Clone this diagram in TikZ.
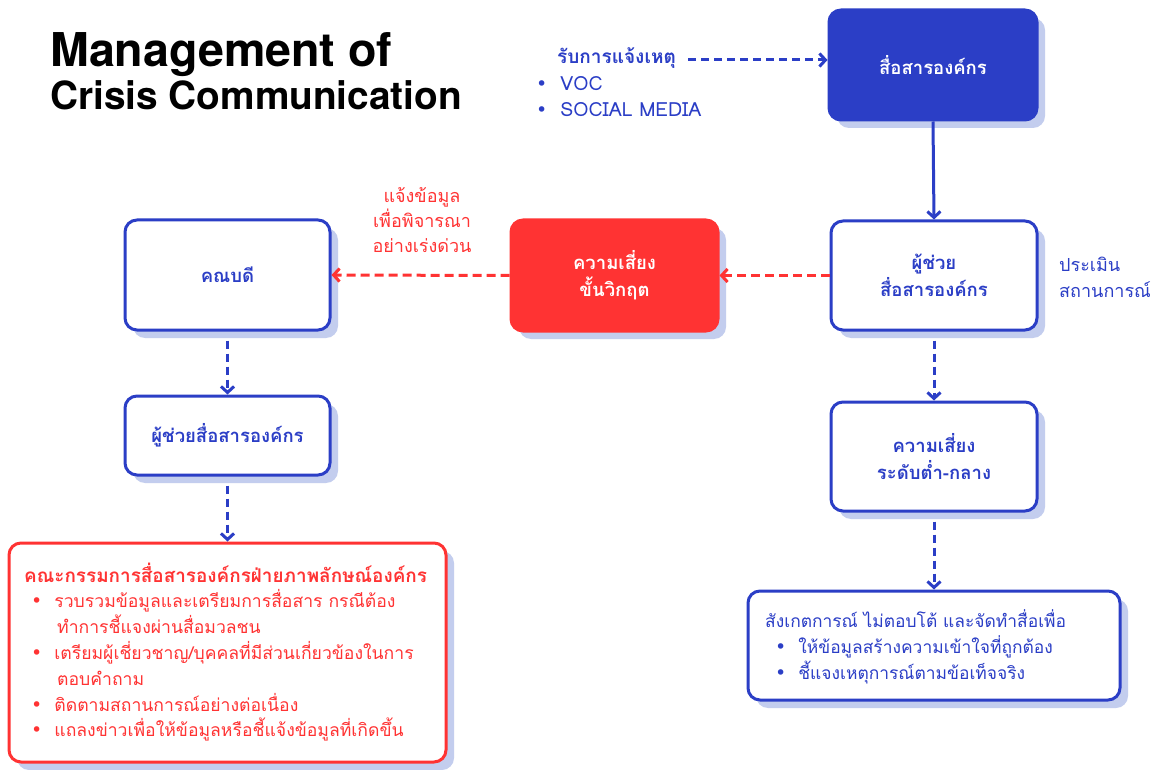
\documentclass[tikz,border=0pt]{standalone}
\usepackage{fontspec}
\setmainfont{Loma}[Script=Thai]
\newfontfamily\ttl{TeX Gyre Heros}
\newfontfamily\dv{DejaVu Sans}
\usetikzlibrary{arrows.meta,shadows}
\definecolor{cblue}{HTML}{2B3EC6}
\definecolor{cred}{HTML}{FF3333}
\definecolor{cshad}{HTML}{C3CDEE}
\newcommand{\bul}{{\dv\fontsize{19}{19}\selectfont •}}
\begin{document}
\begin{tikzpicture}[x=1pt,y=-1pt,
  shad/.style={drop shadow={shadow xshift=8pt,shadow yshift=-8pt,fill=cshad,opacity=1,draw=none}},
  bbox/.style={draw=cblue,line width=3pt,rounded corners=12pt,fill=white,shad,inner sep=0pt,
    text=cblue,font=\bfseries\fontsize{18.5}{27}\selectfont,align=center},
  fbox/.style={bbox,fill=cblue,text=white},
  rbox/.style={bbox,draw=cred,fill=cred,text=white},
  robox/.style={bbox,draw=cred},
  blab/.style={text=cblue,font=\fontsize{18}{26}\selectfont,inner sep=0pt},
  rlab/.style={text=cred,font=\fontsize{18}{25}\selectfont,inner sep=0pt},
  conn/.style={line width=3pt,-{Straight Barb[length=6pt,width=13pt]}},
  bdash/.style={conn,draw=cblue,dash pattern=on 8pt off 5pt},
  rdash/.style={conn,draw=cred,dash pattern=on 9pt off 5pt},
]
\useasboundingbox[fill=white] (0,0) rectangle (1152,770);

% title
\node[anchor=base west,inner sep=0pt,font=\ttl\bfseries\fontsize{46.6}{50}\selectfont] (t1) at (50,67) {Management of};
\node[anchor=base west,inner sep=0pt,font=\ttl\bfseries\fontsize{38.8}{44}\selectfont] (t2) at (50,110) {Crisis Communication};

% boxes
\node[fbox,minimum width=208pt,minimum height=110pt] (top) at (933,65) {สื่อสารองค์กร};
\node[bbox,minimum width=206pt,minimum height=109pt] (rmid) at (934,275.5) {ผู้ช่วย\\สื่อสารองค์กร};
\node[rbox,minimum width=207pt,minimum height=111pt] (red) at (614.5,275.5) {ความเสี่ยง\\ขั้นวิกฤต};
\node[bbox,minimum width=205pt,minimum height=110pt] (dean) at (227.5,275) {คณบดี};
\node[bbox,minimum width=205pt,minimum height=79pt] (lmid) at (227.5,435.5) {ผู้ช่วยสื่อสารองค์กร};
\node[bbox,minimum width=206pt,minimum height=109pt] (rlow) at (934,456.5) {ความเสี่ยง\\ระดับต่ำ-กลาง};
\node[bbox,minimum width=372pt,minimum height=109pt] (br) at (934,645.5) {};
\node[robox,minimum width=437pt,minimum height=219pt] (rbig) at (227.5,652.5) {};

% top-left labels
\node[blab,font=\bfseries\fontsize{19}{26}\selectfont,anchor=base west] (rcv) at (557,64) {รับการแจ้งเหตุ};
\node[blab,font=\fontsize{19.5}{26}\selectfont,anchor=base west] (voc) at (536,91) {\bul\hspace{13pt}VOC};
\node[blab,font=\fontsize{19.5}{26}\selectfont,anchor=base west] (soc) at (536,117) {\bul\hspace{13pt}SOCIAL MEDIA};

% side labels
\node[blab,align=left,anchor=west] (eval) at (1059,277) {ประเมิน\\สถานการณ์};
\node[rlab,align=center] (urg) at (422,220) {แจ้งข้อมูล\\เพื่อพิจารณา\\อย่างเร่งด่วน};

% red box text
\node[rlab,anchor=base west] (rtext) at (24,582) {\vtop{\baselineskip=25.8pt
  \hbox{\bfseries\fontsize{18.9}{25}\selectfont คณะกรรมการสื่อสารองค์กรฝ่ายภาพลักษณ์องค์กร}
  \fontsize{17.6}{25.8}\selectfont
  \hbox{\hspace*{7pt}\bul\hspace{12pt}รวบรวมข้อมูลและเตรียมการสื่อสาร กรณีต้อง}
  \hbox{\hspace*{33pt}ทำการชี้แจงผ่านสื่อมวลชน}
  \hbox{\hspace*{7pt}\bul\hspace{12pt}เตรียมผู้เชี่ยวชาญ/บุคคลที่มีส่วนเกี่ยวข้องในการ}
  \hbox{\hspace*{33pt}ตอบคำถาม}
  \hbox{\hspace*{7pt}\bul\hspace{12pt}ติดตามสถานการณ์อย่างต่อเนื่อง}
  \hbox{\hspace*{7pt}\bul\hspace{12pt}แถลงข่าวเพื่อให้ข้อมูลหรือชี้แจ้งข้อมูลที่เกิดขึ้น}}};

% bottom-right text
\node[blab,anchor=base west] (btext) at (765,627) {\vtop{\baselineskip=26pt
  \fontsize{17.4}{26}\selectfont
  \hbox{สังเกตการณ์ ไม่ตอบโต้ และจัดทำสื่อเพื่อ}
  \hbox{\hspace*{10pt}\bul\hspace{12pt}ให้ข้อมูลสร้างความเข้าใจที่ถูกต้อง}
  \hbox{\hspace*{10pt}\bul\hspace{12pt}ชี้แจงเหตุการณ์ตามข้อเท็จจริง}}};

% connectors
\coordinate (rs) at (688,60);
\draw[bdash] (rs) -- (rs -| top.west);
\draw[conn,draw=cblue] (top.south) -- (rmid.north);
\draw[rdash] (rmid.west) -- (red.east);
\draw[rdash] (red.west) -- (dean.east);
\draw[bdash] ([yshift=-9pt]dean.south) -- (lmid.north);
\draw[bdash] ([yshift=-9pt]lmid.south) -- (rbig.north);
\draw[bdash] ([yshift=-9pt]rmid.south) -- (rlow.north);
\draw[bdash] ([yshift=-9pt]rlow.south) -- (br.north);
\end{tikzpicture}
\end{document}
